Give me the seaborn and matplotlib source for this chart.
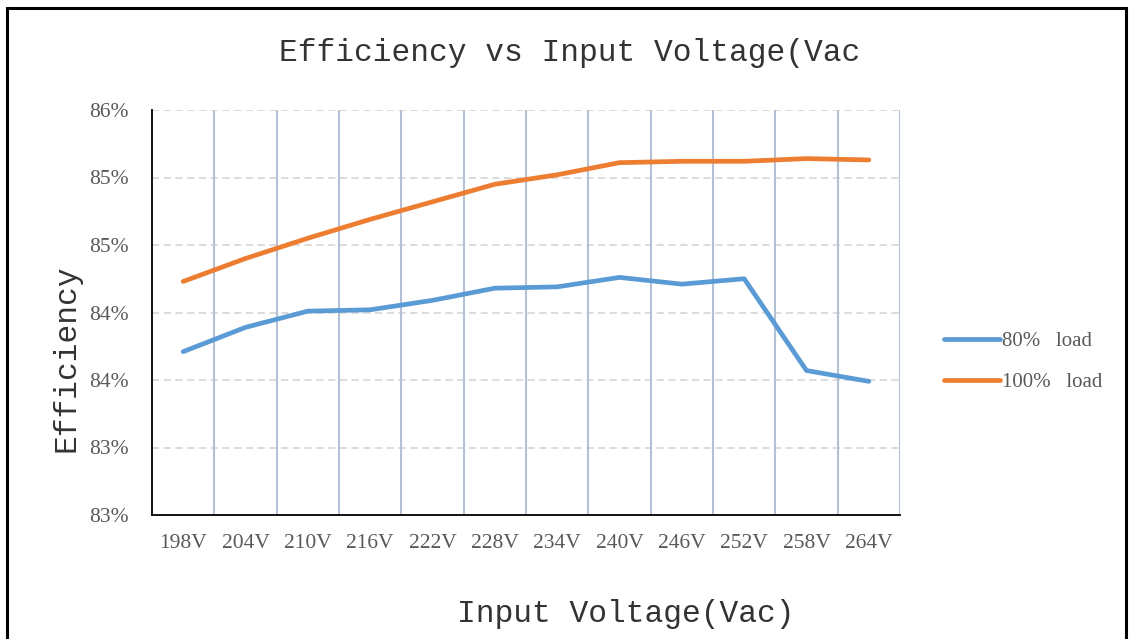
import pandas as pd
import numpy as np
import matplotlib
matplotlib.use("Agg")
import matplotlib.pyplot as plt
import matplotlib.patches as patches
import seaborn as sns

# data
voltages = ["198V", "204V", "210V", "216V", "222V", "228V",
            "234V", "240V", "246V", "252V", "258V", "264V"]
load_80 = [84.01, 84.19, 84.31, 84.32, 84.39, 84.48,
           84.49, 84.56, 84.51, 84.55, 83.87, 83.79]
load_100 = [84.53, 84.70, 84.85, 84.99, 85.12, 85.25,
            85.32, 85.41, 85.42, 85.42, 85.44, 85.43]
series_names = ["80%   load", "100%   load"]
y_ticks = [82.8, 83.3, 83.8, 84.3, 84.8, 85.3, 85.8]
y_tick_labels = ["83%", "83%", "84%", "84%", "85%", "85%", "86%"]

df = pd.DataFrame({
    "Voltage": voltages * 2,
    "Efficiency": load_80 + load_100,
    "Series": [series_names[0]] * len(voltages) + [series_names[1]] * len(voltages),
})

sns.set_style("white")
serif = ["Liberation Serif", "DejaVu Serif"]
mono = ["Liberation Mono", "DejaVu Sans Mono"]

fig = plt.figure(figsize=(11.31, 6.39), dpi=100)
ax = fig.add_axes([152 / 1131, 124 / 639, 748 / 1131, 405 / 639])

sns.lineplot(data=df, x="Voltage", y="Efficiency", hue="Series",
             palette=["#5b9bd5", "#ed7d31"], linewidth=3.4, ax=ax,
             sort=False, legend=True)
for ln in ax.lines:
    ln.set_solid_capstyle("round")

ax.set_xlim(-0.5, len(voltages) - 0.5)
ax.set_ylim(y_ticks[0], y_ticks[-1])
ax.set_yticks(y_ticks)
ax.set_yticklabels(y_tick_labels, family=serif, fontsize=15.5, color="#595959")
ax.set_xticks(range(len(voltages)))
ax.set_xticklabels(voltages, family=serif, fontsize=15.5, color="#595959")
ax.tick_params(axis="x", length=0, pad=14)
ax.tick_params(axis="y", length=0, pad=17)

# gridlines: dashed horizontal, solid vertical between categories
for y in y_ticks[1:]:
    ax.axhline(y, color="#d9d9d9", lw=1.3, ls=(0, (4, 2.5)), zorder=0)
for x in np.arange(0.5, len(voltages), 1.0):
    ax.axvline(x, color="#b4c0d4", lw=1.5, zorder=0)

for s in ["top", "right"]:
    ax.spines[s].set_visible(False)
for s in ["left", "bottom"]:
    ax.spines[s].set_color("black")
    ax.spines[s].set_linewidth(1.3)
ax.set_xlabel("")
ax.set_ylabel("")

leg = ax.legend(loc="center left", bbox_to_anchor=(1.045, 0.378), frameon=False,
                prop={"family": serif, "size": 15}, handlelength=2.7,
                handletextpad=0.1, labelspacing=1.0, borderpad=0)
for t in leg.get_texts():
    t.set_color("#595959")
for h in leg.get_lines():
    h.set_linewidth(3.4)
    h.set_solid_capstyle("round")

fig.text(570 / 1131, 1 - 53 / 639, "Efficiency vs Input Voltage(Vac",
         family=mono, fontsize=22.5, color="#333333", ha="center", va="center")
fig.text(626 / 1131, 1 - 614 / 639, "Input Voltage(Vac)",
         family=mono, fontsize=22.5, color="#333333", ha="center", va="center")
fig.text(66 / 1131, 1 - 358 / 639, "Efficiency", rotation=90,
         family=mono, fontsize=22.5, color="#333333", ha="center", va="center")

# outer frame (bottom edge cut off in the reference)
fig.patches.append(patches.Rectangle((7 / 1131, -0.1), 1119 / 1131, 1.1 - 8 / 639,
                                     transform=fig.transFigure, fill=False,
                                     edgecolor="black", lw=2.2))

fig.savefig("out.png", dpi=100)
